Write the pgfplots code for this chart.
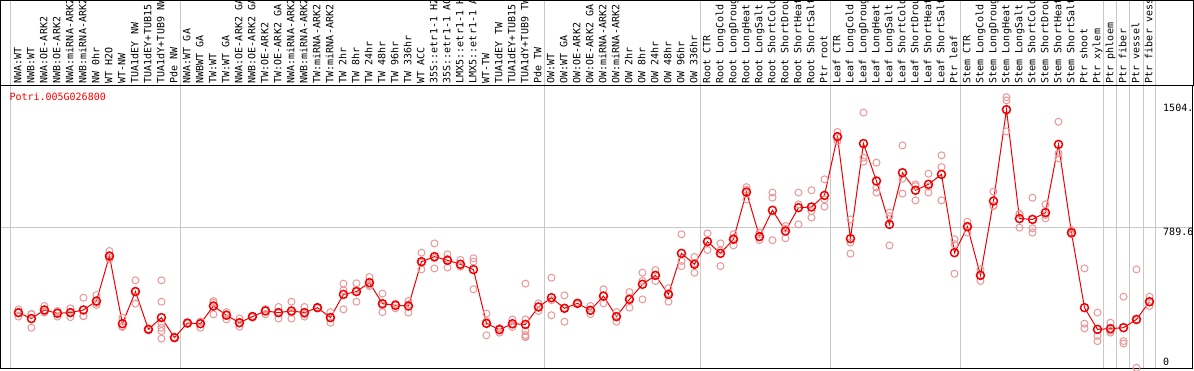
\documentclass[border=0pt]{standalone}
\usepackage{fontspec}
\usepackage{pgfplots}
\pgfplotsset{compat=1.18}
\usepackage{pgfplotstable}
\newfontfamily\monof{DejaVu Sans Mono}
\definecolor{repc}{RGB}{236,150,150}
\definecolor{gridc}{RGB}{200,200,200}
\definecolor{meanc}{RGB}{240,0,0}

\pgfplotstableread{
x y
1 278
2 242
3 294
4 274
5 278
6 294
7 348
8 620
9 211
10 405
11 177
12 248
13 127
14 215
15 211
16 318
17 262
18 217
19 254
20 288
21 278
22 288
23 278
24 308
25 248
26 388
27 405
28 459
29 332
30 322
31 318
32 586
33 616
34 594
35 570
36 538
37 213
38 175
39 211
40 207
41 312
42 368
43 304
44 334
45 292
46 378
47 254
48 358
49 449
50 503
51 388
52 636
53 570
54 707
55 636
56 721
57 1006
58 737
59 896
60 771
61 912
62 916
63 986
64 1341
65 725
66 1299
67 1073
68 811
69 1123
70 1017
71 1053
72 1113
73 640
74 797
75 503
76 952
77 1504
78 846
79 841
80 882
81 1294
82 761
83 308
84 177
85 181
86 187
87 237
88 344
}\means

\pgfplotstableread{
x y
1 298
1 278
1 254
2 268
2 270
2 187
3 318
3 286
3 278
4 288
4 280
4 254
5 304
5 279
5 251
6 368
6 257
6 257
7 384
7 336
7 324
8 650
8 610
8 600
9 248
9 195
9 191
10 473
10 410
10 332
11 180
11 177
11 174
12 473
12 344
12 211
12 187
12 167
12 121
13 130
13 127
13 124
14 218
14 215
14 212
15 223
15 223
15 187
16 348
16 338
16 268
17 281
17 268
17 237
18 243
18 215
18 193
19 258
19 254
19 250
20 298
20 298
20 268
21 312
21 280
21 242
22 344
22 278
22 242
23 312
23 268
23 254
24 311
24 308
24 305
25 281
25 246
25 217
26 453
26 413
26 298
27 455
27 416
27 344
28 493
28 446
28 438
29 393
29 322
29 281
30 331
30 331
30 304
31 348
31 328
31 278
32 640
32 579
32 539
33 696
33 607
33 545
34 630
34 602
34 550
35 596
35 559
35 555
36 606
36 586
36 419
37 272
37 226
37 141
38 184
38 184
38 157
39 237
39 205
39 191
40 453
40 237
40 167
40 143
40 133
40 130
41 334
41 314
41 288
42 489
42 353
42 262
43 382
43 307
43 223
44 338
44 334
44 330
45 318
45 290
45 268
46 419
46 381
46 334
47 281
47 258
47 223
48 402
48 364
48 308
49 519
49 469
49 358
50 535
50 505
50 469
51 425
51 395
51 344
52 751
52 590
52 559
53 614
53 577
53 519
54 757
54 708
54 656
55 696
55 653
55 559
56 751
56 728
56 684
57 1036
57 1020
57 962
58 761
58 734
58 716
59 1003
59 972
59 715
60 801
60 785
60 727
61 1003
61 932
61 811
62 1017
62 891
62 852
63 1083
63 962
63 918
64 1369
64 1340
64 1314
65 841
65 701
65 634
66 1486
66 1214
66 1190
67 1184
67 1033
67 1003
68 882
68 860
68 684
69 1288
69 1087
69 997
70 1053
70 1042
70 956
71 1117
71 1039
71 1003
72 1228
72 1157
72 956
73 721
73 691
73 513
74 827
74 803
74 761
75 539
75 501
75 469
76 1009
76 925
76 922
77 1579
77 1560
77 1373
78 875
78 872
78 791
79 972
79 787
79 761
80 932
80 867
80 847
81 1431
81 1240
81 1210
82 777
82 755
82 751
83 545
83 211
83 183
84 278
84 137
84 106
85 217
85 169
85 157
86 374
86 106
86 91
87 539
87 231
87 -55
88 374
88 340
88 318
}\reps

\begin{document}
\begin{tikzpicture}[x=1pt,y=1pt]
\path[use as bounding box] (0,0) rectangle (1194,370);
\foreach \X in {10.5,180,544,700,830,960,1103,1116,1129.7,1143,1155.7}
  \draw[gridc,line width=1pt] (\X,1) -- (\X,370);
\draw[black,line width=1.2pt] (0.6,284) -- (0.6,369.4) -- (1193.4,369.4) -- (1193.4,284);
\begin{axis}[
  at={(1,1)}, anchor=south west,
  scale only axis, width=1192pt, height=283pt,
  xmin=-0.4077, xmax=91.285, ymin=-58.6, ymax=1650.7,
  axis line style={black,line width=1.2pt},
  major tick length=0pt,
  xtick={1,...,88},
  xticklabel pos=right,
  xticklabels={NWA:WT, NWB:WT, NWA:OE-ARK2, NWB:OE-ARK2, NWA:miRNA-ARK2, NWB:miRNA-ARK2, NW 0hr, WT H2O, WT-NW, TUA1dEY NW, TUA1dEY+TUB15, TUA1dY+TUB9 NW, Pde NW, NWA:WT GA, NWBWT GA, TW:WT, TW:WT GA, NWA:OE-ARK2 GA, NWB:OE-ARK2 GA, TW:OE-ARK2, TW:OE-ARK2 GA, NWA:miRNA-ARK2, NWB:miRNA-ARK2, TW:miRNA-ARK2, TW:miRNA-ARK2, TW 2hr, TW 8hr, TW 24hr, TW 48hr, TW 96hr, TW 336hr, WT ACC, 35S::etr1-1 H2, 35S::etr1-1 AC, LMX5::etr1-1 H, LMX5::etr1-1 A, WT-TW, TUA1dEY TW, TUA1dEY+TUB15, TUA1dY+TUB9 TW, Pde TW, OW:WT, OW:WT GA, OW:OE-ARK2, OW:OE-ARK2 GA, OW:miRNA-ARK2, OW:miRNA-ARK2, OW 2hr, OW 8hr, OW 24hr, OW 48hr, OW 96hr, OW 336hr, Root CTR, Root LongCold, Root LongDroug, Root LongHeat, Root LongSalt, Root ShortCold, Root ShortDrou, Root ShortHeat, Root ShortSalt, Ptr root, Leaf CTR, Leaf LongCold, Leaf LongDroug, Leaf LongHeat, Leaf LongSalt, Leaf ShortCold, Leaf ShortDrou, Leaf ShortHeat, Leaf ShortSalt, Ptr leaf, Stem CTR, Stem LongCold, Stem LongDroug, Stem LongHeat, Stem LongSalt, Stem ShortCold, Stem ShortDrou, Stem ShortHeat, Stem ShortSalt, Ptr shoot, Ptr xylem, Ptr phloem, Ptr fiber, Ptr vessel, Ptr fiber vess},
  xticklabel style={xshift=3pt, font=\monof\fontsize{10}{12}\selectfont, rotate=90, anchor=base west, inner sep=0pt, text=black},
  xticklabel shift=2pt,
  ytick={789.6}, yticklabels={},
  ymajorgrids, major grid style={gridc,line width=1pt},
]
\addplot[only marks, mark=o, mark size=3.5pt, draw=repc, mark options={line width=1pt,draw=repc}] table[x=x,y=y] {\reps};
\addplot[meanc, line width=1pt, mark=o, mark size=4pt, mark options={line width=1.5pt,solid,draw=meanc}] table[x=x,y=y] {\means};
\end{axis}
\node[anchor=west, inner sep=0pt, text=red, font=\monof\fontsize{10}{12}\selectfont] at (9.3,273) {Potri.005G026800};
\node[anchor=west, inner sep=0pt, font=\monof\fontsize{10}{12}\selectfont] at (1163,262.3) {1504.};
\node[anchor=west, inner sep=0pt, font=\monof\fontsize{10}{12}\selectfont] at (1163,138.3) {789.6};
\node[anchor=west, inner sep=0pt, font=\monof\fontsize{10}{12}\selectfont] at (1163,8) {0};
\end{tikzpicture}
\end{document}
